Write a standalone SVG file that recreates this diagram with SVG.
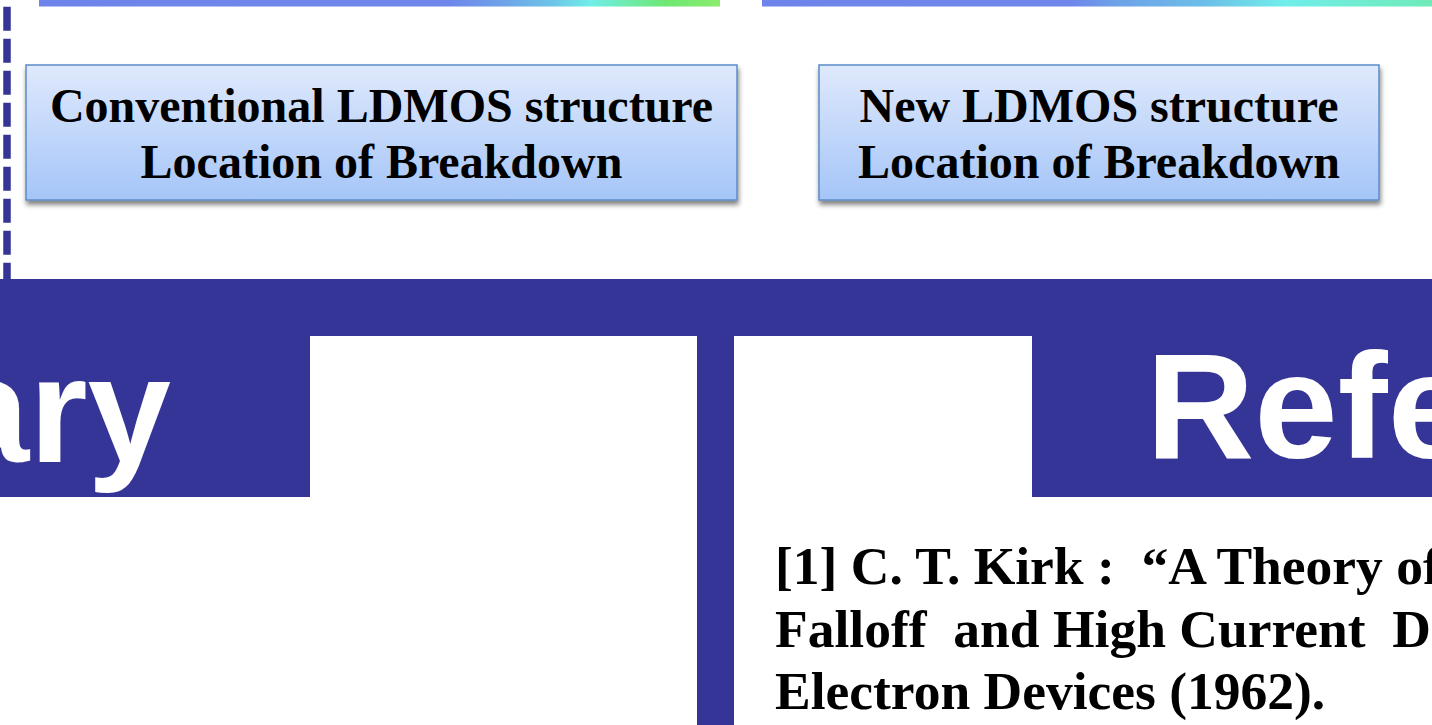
<svg xmlns="http://www.w3.org/2000/svg" width="1432" height="725" viewBox="0 0 1432 725">
  <style>
    .band { fill: #353597; }
    .box { fill: url(#boxGrad); stroke: #5b8cc8; stroke-width: 1.5; filter: url(#shadow); }
    .boxText { font-family: "Liberation Serif", "Times New Roman", serif; font-weight: bold; font-size: 48px; fill: #000; text-anchor: middle; }
    .title { font-family: "Liberation Sans", Arial, sans-serif; font-weight: bold; font-size: 150px; fill: #fff; }
    .ref { font-family: "Liberation Serif", "Times New Roman", serif; font-weight: bold; font-size: 53.5px; fill: #000; }
  </style>
  <defs>
    <linearGradient id="boxGrad" x1="0" y1="0" x2="0" y2="1">
      <stop offset="0" stop-color="#dfe9fc"/>
      <stop offset="1" stop-color="#a5c5f8"/>
    </linearGradient>
    <linearGradient id="bar1" gradientUnits="userSpaceOnUse" x1="39" y1="0" x2="720" y2="0">
      <stop offset="0" stop-color="#6e84ea"/>
      <stop offset="0.6" stop-color="#6e86ea"/>
      <stop offset="0.68" stop-color="#6ea2e8"/>
      <stop offset="0.75" stop-color="#6cc2e8"/>
      <stop offset="0.81" stop-color="#70eee8"/>
      <stop offset="0.92" stop-color="#6ee872"/>
      <stop offset="1" stop-color="#8aec6e"/>
    </linearGradient>
    <linearGradient id="bar2" gradientUnits="userSpaceOnUse" x1="762" y1="0" x2="1432" y2="0">
      <stop offset="0" stop-color="#6e84ea"/>
      <stop offset="0.46" stop-color="#6e86ea"/>
      <stop offset="0.53" stop-color="#6ea2e8"/>
      <stop offset="0.66" stop-color="#6cbee8"/>
      <stop offset="0.78" stop-color="#70eeea"/>
      <stop offset="1" stop-color="#70eab8"/>
    </linearGradient>
    <filter id="shadow" x="-5%" y="-10%" width="112%" height="130%">
      <feGaussianBlur in="SourceAlpha" stdDeviation="2.5"/>
      <feOffset dx="1" dy="4" result="b"/>
      <feComponentTransfer><feFuncA type="linear" slope="0.5"/></feComponentTransfer>
      <feMerge><feMergeNode/><feMergeNode in="SourceGraphic"/></feMerge>
    </filter>
  </defs>

  <rect width="1432" height="725" fill="#ffffff"/>

  <g id="topbars">
    <rect x="39" y="0" width="681" height="6.5" fill="url(#bar1)"/>
    <rect x="762" y="0" width="670" height="6.5" fill="url(#bar2)"/>
  </g>

  <g id="connectors">
    <line x1="7" y1="6.7" x2="7" y2="280" stroke="#353597" stroke-width="7.5" stroke-dasharray="24 8"/>
  </g>

  <g id="frame">
    <rect class="band" x="0" y="279" width="1432" height="57"/>
    <rect class="band" x="0" y="335" width="310" height="162"/>
    <rect class="band" x="697" y="335" width="37" height="390"/>
    <rect class="band" x="1032" y="335" width="400" height="162"/>
  </g>

  <g id="node-summary">
    <text class="title" x="171" y="461.5" text-anchor="end">ary</text>
  </g>

  <g id="node-references-title">
    <text class="title" x="1146" y="457.5">Refe</text>
  </g>

  <g id="node-conventional">
    <rect class="box" x="26" y="65" width="711" height="135"/>
    <text class="boxText" x="381.5" y="122">Conventional LDMOS structure</text>
    <text class="boxText" x="381.5" y="178">Location of Breakdown</text>
  </g>

  <g id="node-new">
    <rect class="box" x="819" y="65" width="560" height="135"/>
    <text class="boxText" x="1099" y="122">New LDMOS structure</text>
    <text class="boxText" x="1099" y="178">Location of Breakdown</text>
  </g>

  <g id="node-reference-1">
    <text class="ref" x="775" y="584" xml:space="preserve">[1] C. T. Kirk :  “A Theory of</text>
    <text class="ref" x="775" y="647" xml:space="preserve">Falloff  and High Current  De</text>
    <text class="ref" x="775" y="709">Electron Devices (1962).</text>
  </g>
</svg>
